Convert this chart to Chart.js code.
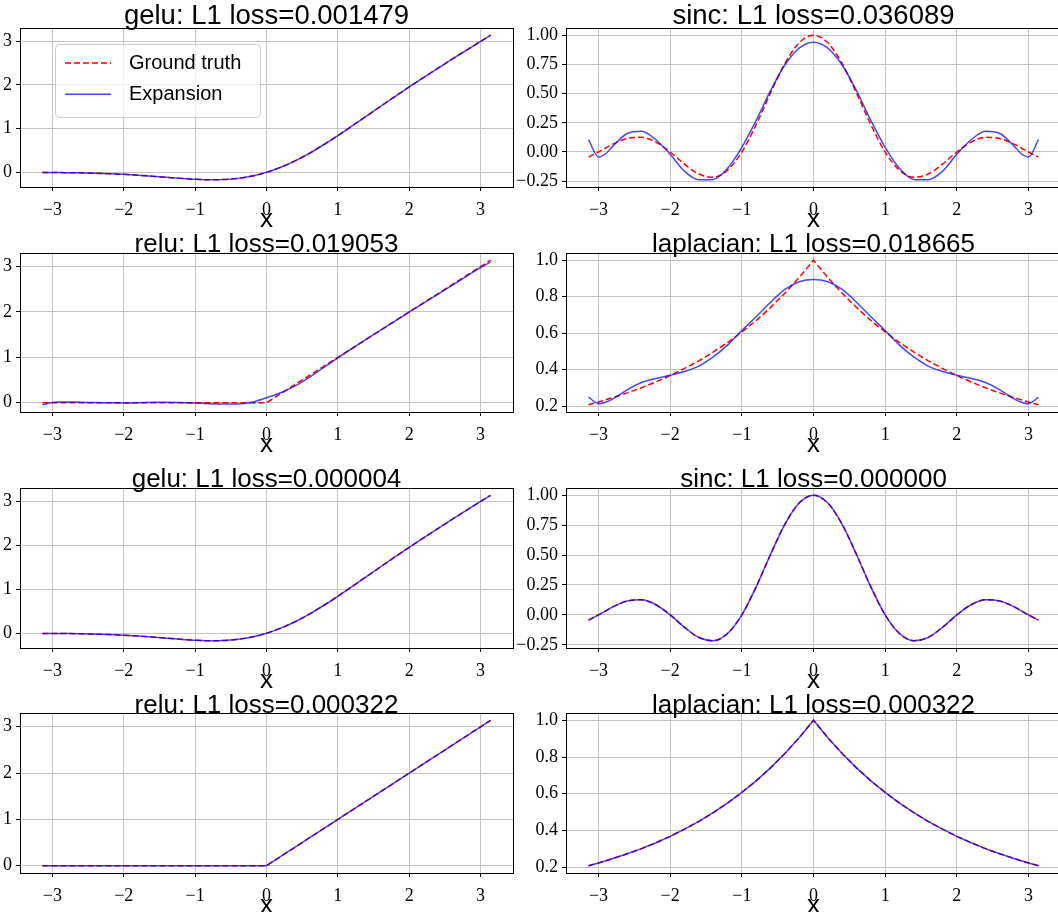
<!DOCTYPE html>
<html>
<head>
<meta charset="utf-8">
<title>Expansion vs ground truth</title>
<script src="https://cdn.jsdelivr.net/npm/chart.js@4.4.1/dist/chart.umd.min.js"></script>
<style>
    html, body { margin: 0; padding: 0; background: #fff; }
    #page { position: relative; width: 1058px; height: 912px; overflow: hidden; }
    #page canvas { position: absolute; }
</style>
</head>
<body>
<div id="page"></div>
<script>
// x samples shared by every panel
const xs = [-3.14, -3.0, -2.9, -2.8, -2.6, -2.4, -2.2, -2.0, -1.8, -1.6, -1.4, -1.2, -1.0, -0.8, -0.6, -0.4, -0.2,
    0, 0.2, 0.4, 0.6, 0.8, 1.0, 1.2, 1.4, 1.6, 1.8, 2.0, 2.2, 2.4, 2.6, 2.8, 2.9, 3.0, 3.14];

// ground truth curves
const geluTruth = [-0.003, -0.004, -0.005, -0.007, -0.012, -0.020, -0.031, -0.046, -0.065, -0.088, -0.113, -0.138, -0.159, -0.170, -0.165, -0.138, -0.084,
    0, 0.116, 0.262, 0.435, 0.631, 0.841, 1.062, 1.287, 1.512, 1.735, 1.955, 2.169, 2.380, 2.588, 2.793, 2.895, 2.996, 3.137];
const sincTruth = [-0.044, 0, 0.034, 0.067, 0.116, 0.126, 0.085, 0, -0.104, -0.189, -0.216, -0.156, 0, 0.234, 0.505, 0.757, 0.935,
    1.0, 0.935, 0.757, 0.505, 0.234, 0, -0.156, -0.216, -0.189, -0.104, 0, 0.085, 0.126, 0.116, 0.067, 0.034, 0, -0.044];
const reluTruth = [0, 0, 0, 0, 0, 0, 0, 0, 0, 0, 0, 0, 0, 0, 0, 0, 0,
    0, 0.2, 0.4, 0.6, 0.8, 1.0, 1.2, 1.4, 1.6, 1.8, 2.0, 2.2, 2.4, 2.6, 2.8, 2.9, 3.0, 3.14];
const lapTruth = [0.208, 0.223, 0.235, 0.247, 0.273, 0.301, 0.333, 0.368, 0.407, 0.449, 0.497, 0.549, 0.607, 0.670, 0.741, 0.819, 0.905,
    1.0, 0.905, 0.819, 0.741, 0.670, 0.607, 0.549, 0.497, 0.449, 0.407, 0.368, 0.333, 0.301, 0.273, 0.247, 0.235, 0.223, 0.208];

// expansions that visibly differ from the truth (first two rows)
const sincExp = [0.105, -0.043, -0.015, 0.05, 0.158, 0.178, 0.105, -0.02, -0.165, -0.238, -0.235, -0.14, 0.04, 0.27, 0.525, 0.745, 0.89,
    0.94, 0.89, 0.745, 0.525, 0.27, 0.04, -0.14, -0.235, -0.238, -0.165, -0.02, 0.105, 0.178, 0.158, 0.05, -0.015, -0.043, 0.105];
const reluExp = [-0.045, 0.005, 0.015, 0.018, 0.012, 0.003, -0.003, -0.004, 0.0, 0.008, 0.01, 0.004, -0.008, -0.02, -0.028, -0.03, 0.01,
    0.11, 0.22, 0.37, 0.56, 0.775, 0.99, 1.195, 1.40, 1.60, 1.80, 2.0, 2.195, 2.39, 2.585, 2.785, 2.885, 2.98, 3.10];
const lapExp = [0.25, 0.214, 0.222, 0.24, 0.29, 0.33, 0.352, 0.37, 0.39, 0.42, 0.47, 0.535, 0.615, 0.69, 0.77, 0.84, 0.882,
    0.895, 0.882, 0.84, 0.77, 0.69, 0.615, 0.535, 0.47, 0.42, 0.39, 0.37, 0.352, 0.33, 0.29, 0.24, 0.222, 0.214, 0.25];

// tick values and labels
const xTicks = [-3, -2, -1, 0, 1, 2, 3];
const xTickLabels = ['\u22123', '\u22122', '\u22121', '0', '1', '2', '3'];
const intTicks = [0, 1, 2, 3];
const intTickLabels = ['0', '1', '2', '3'];
const sincTicks = [-0.25, 0, 0.25, 0.5, 0.75, 1.0];
const sincTickLabels = ['\u22120.25', '0.00', '0.25', '0.50', '0.75', '1.00'];
const lapTicks = [0.2, 0.4, 0.6, 0.8, 1.0];
const lapTickLabels = ['0.2', '0.4', '0.6', '0.8', '1.0'];

const panels = [
    { name: 'gelu', loss: '0.001479', truth: geluTruth, exp: geluTruth, ticks: intTicks, labels: intTickLabels, legend: true },
    { name: 'sinc', loss: '0.036089', truth: sincTruth, exp: sincExp, ticks: sincTicks, labels: sincTickLabels },
    { name: 'relu', loss: '0.019053', truth: reluTruth, exp: reluExp, ticks: intTicks, labels: intTickLabels, sharp: true },
    { name: 'laplacian', loss: '0.018665', truth: lapTruth, exp: lapExp, ticks: lapTicks, labels: lapTickLabels, sharp: true },
    { name: 'gelu', loss: '0.000004', truth: geluTruth, exp: geluTruth, ticks: intTicks, labels: intTickLabels },
    { name: 'sinc', loss: '0.000000', truth: sincTruth, exp: sincTruth, ticks: sincTicks, labels: sincTickLabels },
    { name: 'relu', loss: '0.000322', truth: reluTruth, exp: reluTruth, ticks: intTicks, labels: intTickLabels, sharp: true, sharpExp: true },
    { name: 'laplacian', loss: '0.000322', truth: lapTruth, exp: lapTruth, ticks: lapTicks, labels: lapTickLabels, sharp: true, sharpExp: true }
];

// page layout: frame top/bottom of each row, title offset from frame top, title size
const rowFrames = [[28, 187], [253, 412], [488, 648], [713, 873]];
const titleShift = [-4, -1, -1, 0];
const titleSize = [27.5, 26, 26, 26];

const serif = '"Liberation Serif", "DejaVu Serif", serif';
const sans = '"Liberation Sans", "DejaVu Sans", sans-serif';
const page = document.getElementById('page');

const panelPlugin = {
    id: 'panel',
    afterDatasetsDraw(chart) {
        const { ctx, chartArea: a } = chart;
        ctx.save();
        ctx.strokeStyle = '#000';
        ctx.lineWidth = 1;
        ctx.strokeRect(Math.round(a.left) + 0.5, Math.round(a.top) + 0.5,
            Math.round(a.right - a.left), Math.round(a.bottom - a.top));
        ctx.restore();
    },
    afterDraw(chart, args, opts) {
        const { ctx, chartArea: a } = chart;
        ctx.save();
        ctx.fillStyle = '#000';
        ctx.font = opts.size + 'px ' + sans;
        ctx.textAlign = 'center';
        ctx.textBaseline = 'alphabetic';
        ctx.fillText(opts.title, (a.left + a.right) / 2, a.top + opts.shift);
        if (opts.legend) drawLegend(chart);
        ctx.restore();
    }
};

function drawLegend(chart) {
    const { ctx, chartArea: a } = chart;
    const x0 = a.left + 35, y0 = a.top + 16;
    ctx.beginPath();
    ctx.roundRect(x0 + 0.5, y0 + 0.5, 205, 73, 4);
    ctx.fillStyle = 'rgba(255,255,255,0.8)';
    ctx.fill();
    ctx.strokeStyle = '#cccccc';
    ctx.lineWidth = 1;
    ctx.stroke();
    chart.data.datasets.forEach((ds, k) => {
        const y = y0 + 19 + k * 31.3;
        ctx.beginPath();
        ctx.setLineDash(ds.borderDash || []);
        ctx.strokeStyle = ds.borderColor;
        ctx.lineWidth = ds.borderWidth;
        ctx.moveTo(x0 + 10, y);
        ctx.lineTo(x0 + 56, y);
        ctx.stroke();
        ctx.setLineDash([]);
        ctx.fillStyle = '#000';
        ctx.font = '20px ' + sans;
        ctx.textAlign = 'left';
        ctx.textBaseline = 'middle';
        ctx.fillText(ds.label, x0 + 74, y);
    });
}

function makePanel(p, i) {
    const col = i % 2, row = Math.floor(i / 2);
    const [top, bottom] = rowFrames[row];
    const canvas = document.createElement('canvas');
    canvas.width = col ? 565 : 520;
    canvas.height = 30 + (bottom - top) + 50;
    canvas.style.left = (col ? 500 : 0) + 'px';
    canvas.style.top = (top - 30) + 'px';
    page.appendChild(canvas);

    const yAxisWidth = col ? 66 : 20;
    const all = p.truth.concat(p.exp);
    const lo = Math.min(...all), hi = Math.max(...all);
    const ym = (hi - lo) * 0.05;
    const xm = (xs[xs.length - 1] - xs[0]) * 0.05;
    const grid = { color: '#c4c4c4', lineWidth: 1, tickColor: '#000', tickLength: 4, tickWidth: 1 };

    new Chart(canvas, {
        type: 'line',
        data: {
            datasets: [{
                label: 'Ground truth',
                data: xs.map((x, k) => ({ x, y: p.truth[k] })),
                borderColor: '#ff0000',
                borderDash: [6, 3],
                borderWidth: 1.5,
                pointRadius: 0,
                cubicInterpolationMode: p.sharp ? 'default' : 'monotone',
                tension: 0,
                order: 1
            }, {
                label: 'Expansion',
                data: xs.map((x, k) => ({ x, y: p.exp[k] })),
                borderColor: 'rgba(0,0,255,0.72)',
                borderWidth: 1.5,
                pointRadius: 0,
                cubicInterpolationMode: p.sharpExp ? 'default' : 'monotone',
                tension: 0,
                order: 0
            }]
        },
        options: {
            responsive: false,
            animation: false,
            devicePixelRatio: 1,
            layout: { padding: { top: 30, right: col ? 4 : 7, bottom: 0, left: 0 } },
            plugins: {
                legend: { display: false },
                tooltip: { enabled: false },
                panel: { title: `${p.name}: L1 loss=${p.loss}`, shift: titleShift[row], size: titleSize[row], legend: !!p.legend }
            },
            scales: {
                x: {
                    type: 'linear',
                    min: xs[0] - xm,
                    max: xs[xs.length - 1] + xm,
                    afterBuildTicks: s => { s.ticks = xTicks.map(v => ({ value: v })); },
                    afterFit: s => { s.height = 50; },
                    ticks: { callback: (v, k) => xTickLabels[k], font: { family: serif, size: 18 }, color: '#000', padding: 8, maxRotation: 0, autoSkip: false },
                    grid: grid,
                    border: { display: false },
                    title: { display: true, text: 'x', color: '#000', font: { family: sans, size: 26 }, padding: { top: 0, bottom: 2 } }
                },
                y: {
                    type: 'linear',
                    min: lo - ym,
                    max: hi + ym,
                    afterBuildTicks: s => { s.ticks = p.ticks.map(v => ({ value: v })); },
                    afterFit: s => { s.width = yAxisWidth; },
                    ticks: { callback: (v, k) => p.labels[k], font: { family: serif, size: 18 }, color: '#000', padding: 4, autoSkip: false },
                    grid: grid,
                    border: { display: false }
                }
            }
        },
        plugins: [panelPlugin]
    });
}

panels.forEach(makePanel);
</script>
</body>
</html>
